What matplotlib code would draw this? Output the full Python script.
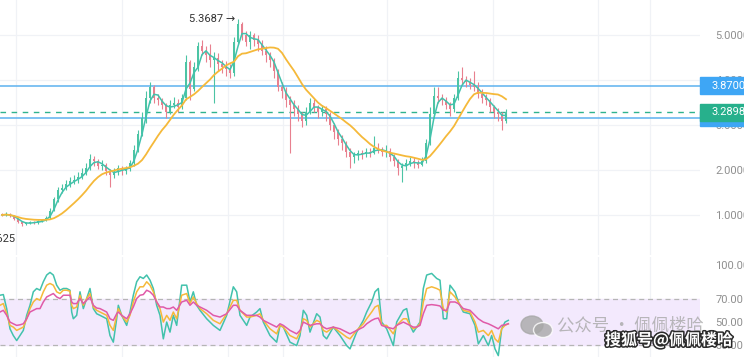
import matplotlib
matplotlib.use("Agg")
import matplotlib.pyplot as plt
import matplotlib.patheffects as pe
from matplotlib.patches import Rectangle, Ellipse
import numpy as np
import pandas as pd

plt.rcParams['font.family'] = ['Roboto', 'Noto Sans CJK SC', 'DejaVu Sans']

# ---------------- data ----------------
first_open = 1.02
closes = [1.00, 1.02, 0.98, 0.92, 0.85, 0.80, 0.82, 0.84, 0.83, 0.86,
          0.88, 0.93, 1.10, 1.35, 1.55, 1.60, 1.70, 1.75, 1.78, 1.85,
          1.93, 2.05, 2.25, 2.20, 2.10, 2.12, 1.98, 1.90, 1.95, 2.05,
          1.98, 2.02, 2.15, 2.45, 2.80, 3.15, 3.60, 3.85, 3.60, 3.55,
          3.45, 3.30, 3.45, 3.50, 3.40, 3.60, 4.40, 3.80, 4.30, 4.75,
          4.65, 4.55, 4.45, 4.50, 4.35, 4.30, 4.25, 4.15, 4.85, 5.25,
          5.00, 4.85, 5.00, 4.90, 4.80, 4.65, 4.55, 4.45, 4.20, 3.85,
          3.75, 3.55, 3.45, 3.35, 3.25, 3.10, 3.30, 3.50, 3.40, 3.30,
          3.35, 3.25, 3.00, 2.85, 2.70, 2.60, 2.40, 2.30, 2.33, 2.38,
          2.35, 2.40, 2.38, 2.50, 2.45, 2.40, 2.42, 2.30, 2.20, 2.05,
          2.08, 2.15, 2.20, 2.15, 2.12, 2.20, 2.60, 3.25, 3.65, 3.60,
          3.55, 3.45, 3.35, 3.60, 4.05, 4.00, 3.95, 3.90, 3.85, 3.70,
          3.60, 3.55, 3.40, 3.30, 3.25, 3.10, 3.2898]
highs = [1.05, 1.06, 1.04, 0.99, 0.94, 0.87, 0.85, 0.87, 0.87, 0.89,
         0.92, 0.98, 1.15, 1.40, 1.62, 1.70, 1.78, 1.85, 1.90, 1.95,
         2.05, 2.15, 2.35, 2.32, 2.25, 2.22, 2.15, 2.02, 2.05, 2.12,
         2.10, 2.10, 2.22, 2.55, 2.90, 3.30, 3.75, 3.95, 3.90, 3.70,
         3.60, 3.50, 3.55, 3.62, 3.58, 3.70, 4.55, 4.45, 4.40, 4.85,
         4.90, 4.75, 4.80, 4.62, 4.60, 4.45, 4.42, 4.35, 4.95, 5.3687,
         5.30, 5.10, 5.10, 5.05, 5.00, 4.90, 4.75, 4.62, 4.50, 4.25,
         3.95, 3.85, 3.65, 3.55, 3.45, 3.30, 3.40, 3.60, 3.58, 3.45,
         3.45, 3.42, 3.30, 3.05, 2.92, 2.78, 2.65, 2.50, 2.40, 2.45,
         2.45, 2.48, 2.50, 2.75, 2.60, 2.52, 2.55, 2.48, 2.35, 2.25,
         2.15, 2.25, 2.30, 2.28, 2.22, 2.30, 2.70, 3.40, 3.85, 3.85,
         3.70, 3.62, 3.52, 3.70, 4.20, 4.30, 4.10, 4.05, 4.20, 3.95,
         3.80, 3.68, 3.60, 3.45, 3.38, 3.30, 3.35]
lows = [0.97, 0.98, 0.95, 0.90, 0.83, 0.7625, 0.78, 0.80, 0.80, 0.81,
        0.84, 0.86, 0.91, 1.08, 1.30, 1.48, 1.55, 1.62, 1.68, 1.72,
        1.80, 1.88, 2.00, 2.10, 2.02, 2.00, 1.88, 1.62, 1.82, 1.90,
        1.90, 1.92, 1.98, 2.10, 2.40, 2.75, 3.05, 3.50, 3.50, 3.45,
        3.35, 3.15, 3.25, 3.38, 3.30, 3.35, 3.55, 3.55, 3.75, 4.20,
        4.55, 4.40, 4.30, 3.50, 4.20, 4.15, 4.10, 4.05, 4.10, 4.80,
        4.90, 4.75, 4.70, 4.75, 4.65, 4.55, 4.40, 4.30, 4.05, 3.75,
        3.60, 3.40, 2.38, 3.20, 3.10, 2.95, 3.00, 3.25, 3.30, 3.15,
        3.20, 3.10, 2.90, 2.70, 2.55, 2.45, 2.30, 2.05, 2.15, 2.22,
        2.25, 2.28, 2.30, 2.35, 2.38, 2.32, 2.30, 2.20, 2.10, 1.90,
        1.73, 2.00, 2.08, 2.05, 2.05, 2.08, 2.15, 2.55, 3.15, 3.50,
        3.45, 3.35, 3.20, 3.30, 3.55, 3.90, 3.85, 3.80, 3.75, 3.60,
        3.50, 3.45, 3.30, 3.15, 3.10, 2.90, 3.05]

# oscillator readings (time in bar units)
rsi_t = [-0.5, 0.33, 1.17, 2, 2.83, 3.67, 4.5, 5.33, 6.17, 7,
         7.83, 8.67, 9.5, 10.33, 11.17, 12, 12.83, 13.67, 14.5, 15.33,
         16.17, 17, 17.42, 17.83, 18.67, 19.5, 20.33, 21.17, 22, 22.83,
         23.67, 24.5, 26.17, 27, 27.83, 28.67, 29.08, 29.92, 31.17, 32,
         32.83, 33.67, 34.5, 35.33, 36.17, 37, 37.83, 38.67, 39.5, 40.33,
         41.17, 42, 42.83, 43.67, 44.92, 46.17, 47, 47.83, 48.67, 49.5,
         51.17, 52.83, 54.5, 56.17, 57.83, 58.67, 59.5, 61.17, 62, 63.67,
         64.5, 65.33, 67, 68.67, 69.5, 70.33, 72, 73.67, 74.5, 75.33,
         76.17, 77, 78.67, 79.5, 80.33, 81.17, 82.83, 84.5, 86.17, 87,
         88.67, 90.33, 91.17, 92.42, 93.25, 94.08, 94.92, 96.17, 97.83, 98.67,
         100.33, 101.17, 102, 102.83, 103.67, 104.5, 105.33, 106.17, 107.42, 108.67,
         109.5, 110.33, 111.17, 112, 113.25, 114.08, 115.33, 117, 118.25, 119.08,
         120.33, 121.58, 122.42, 123.25, 124.08, 124.92, 125.75, 126.58]
rsi_fast = [73.5, 74.1, 61.8, 44.1, 38.2, 33.8, 38.2, 42.7, 55.9, 64.7,
            76.5, 79.4, 77.9, 85.3, 91.2, 93.5, 91.2, 82.3, 77.9, 79.4,
            79.4, 77.9, 58.8, 52.9, 55.9, 76.5, 61.8, 70.6, 79.4, 61.8,
            57.3, 55.9, 52.9, 38.2, 32.4, 52.9, 64.7, 55.9, 47.1, 58.8,
            73.5, 85.3, 89.7, 88.2, 91.2, 86.7, 79.4, 64.7, 55.9, 35.3,
            50.0, 41.2, 55.9, 47.1, 82.3, 82.3, 67.6, 76.5, 64.7, 60.3,
            52.9, 47.1, 42.7, 55.9, 80.9, 76.5, 55.9, 47.1, 54.4, 58.8,
            61.8, 50.0, 38.2, 32.4, 47.1, 45.6, 32.4, 29.4, 38.2, 60.3,
            55.9, 41.2, 57.3, 54.4, 38.2, 35.3, 45.6, 38.2, 29.4, 26.5,
            41.2, 51.5, 58.8, 67.6, 76.5, 79.4, 50.0, 44.1, 29.4, 50.0,
            60.3, 61.8, 47.1, 41.2, 45.6, 50.0, 79.4, 91.2, 92.6, 88.2,
            86.7, 52.9, 52.9, 82.3, 76.5, 67.6, 58.8, 57.3, 47.1, 30.9,
            38.2, 29.4, 38.2, 26.5, 20.6, 44.1, 50.0, 51.5]
rsi_mid = [64.7, 66.2, 57.3, 47.1, 45.6, 42.7, 44.1, 45.6, 52.9, 61.8,
           67.6, 70.6, 69.1, 76.5, 82.3, 83.8, 82.3, 76.5, 75.0, 77.9,
           77.9, 77.0, 64.7, 61.8, 63.2, 73.5, 64.7, 70.6, 75.0, 63.2,
           60.3, 58.8, 55.9, 47.1, 42.7, 55.9, 61.8, 55.9, 50.0, 55.9,
           67.6, 76.5, 80.9, 80.9, 85.3, 82.3, 76.5, 67.6, 61.8, 50.0,
           55.9, 51.5, 58.8, 52.9, 73.5, 75.0, 66.2, 72.0, 66.2, 61.8,
           57.3, 51.5, 48.5, 57.3, 69.1, 69.1, 60.3, 54.4, 54.4, 55.9,
           57.3, 51.5, 44.1, 39.7, 47.1, 45.6, 38.2, 35.3, 41.2, 52.9,
           51.5, 45.6, 51.5, 50.0, 42.7, 41.2, 45.6, 41.2, 36.8, 35.3,
           42.7, 48.5, 52.9, 58.8, 63.2, 64.7, 47.1, 47.1, 39.7, 47.1,
           52.9, 52.9, 47.1, 44.1, 45.6, 48.5, 67.6, 79.4, 80.9, 79.4,
           77.9, 61.8, 58.8, 76.5, 72.0, 67.6, 60.3, 58.8, 50.0, 41.2,
           42.7, 38.2, 42.7, 35.3, 32.4, 44.1, 47.1, 48.5]
rsi_slow = [58.8, 60.3, 55.9, 50.0, 48.5, 47.1, 47.6, 48.5, 52.9, 58.8,
            60.3, 61.8, 61.8, 67.6, 72.0, 73.5, 75.0, 72.0, 70.6, 73.5,
            73.5, 73.5, 67.6, 66.2, 66.2, 70.6, 66.2, 69.1, 72.0, 64.7,
            62.3, 61.8, 58.8, 52.9, 51.5, 57.3, 58.8, 55.9, 52.9, 57.3,
            63.2, 70.6, 73.5, 74.1, 77.9, 76.5, 73.5, 67.6, 63.2, 63.2,
            61.8, 61.8, 63.2, 60.3, 67.6, 69.1, 64.7, 67.6, 64.7, 63.2,
            60.3, 55.9, 54.4, 57.3, 64.7, 64.7, 60.3, 55.9, 55.9, 55.9,
            54.4, 51.5, 48.5, 45.6, 48.5, 47.1, 42.7, 39.7, 42.7, 50.0,
            48.5, 47.1, 48.5, 48.5, 45.6, 44.1, 45.6, 44.1, 41.2, 39.7,
            42.7, 45.6, 48.5, 51.5, 52.9, 53.5, 47.1, 45.6, 44.1, 47.1,
            50.0, 48.5, 47.1, 45.6, 45.6, 47.1, 57.3, 64.7, 65.3, 64.7,
            64.1, 60.3, 60.3, 67.6, 67.6, 66.2, 61.8, 60.3, 55.9, 52.9,
            50.0, 48.5, 47.1, 45.6, 44.1, 47.1, 47.6, 48.5]

level_high = 3.87
level_last = 3.2898
level_low = 3.15
price_ticks = [1.0, 2.0, 3.0, 4.0, 5.0]
rsi_ticks = [30, 50, 70, 100]
max_label = "5.3687 \u2192"
min_label = "0.7625"
fast_win, slow_win = 3, 12

# ---------------- derived ----------------
c = pd.Series(closes)
o = pd.Series([first_open] + closes[:-1])
h = pd.Series(highs)
l = pd.Series(lows)
n = len(c)
idx = np.arange(n)
ma_fast = c.rolling(fast_win, min_periods=1).mean()
ma_slow = c.rolling(slow_win, min_periods=1).mean()

UP, DOWN = '#4cc4a4', '#e8808f'
TEAL, YEL, PINK = '#42c2ac', '#f5b93a', '#e05aa8'
GRID = '#f0f2f6'
TICKC = '#8f8f8f'

W, H = 744, 357
fig = plt.figure(figsize=(W / 100, H / 100), dpi=100)
fig.patch.set_facecolor('white')
axp = fig.add_axes([0, 1 - 255 / H, 700 / W, 255 / H])
axr = fig.add_axes([0, 0, 700 / W, 100 / H], sharex=axp)

xmin, xmax = -0.5, 174.5
for ax in (axp, axr):
    ax.set_xlim(xmin, xmax)
    for s in ax.spines.values():
        s.set_visible(False)
    ax.tick_params(axis='x', length=0, labelbottom=False)
    ax.yaxis.tick_right()
    ax.tick_params(axis='y', length=0, pad=11, labelsize=8, colors=TICKC)
    for gx in [16, 122, 228, 283, 387, 493, 598, 650]:
        ax.axvline((gx - 2) / 4, color=GRID, lw=0.9, zorder=0)

# price panel
axp.set_ylim(0.111, 5.78)
axp.set_yticks(price_ticks)
axp.set_yticklabels([f"{t:.4f}" for t in price_ticks])
for t in price_ticks:
    axp.axhline(t, color=GRID, lw=0.9, zorder=0)

cols = [UP if cc >= oo else DOWN for cc, oo in zip(c, o)]
axp.vlines(idx, l, h, colors=cols, lw=0.8, zorder=2)
bottoms = np.minimum(o, c)
heights = np.maximum(np.abs(c - o), 0.015)
axp.bar(idx, heights, bottom=bottoms, width=0.6, color=cols, zorder=3, linewidth=0)
axp.plot(idx, ma_fast, color=TEAL, lw=1.1, zorder=4)
axp.plot(idx, ma_slow, color=YEL, lw=1.3, zorder=4)

axp.axhline(level_high, color='#5db2ef', lw=1.1, zorder=1)
axp.axhline(level_low, color='#5db2ef', lw=1.1, zorder=1)
axp.axhline(level_last, color='#2fb38e', lw=1.0, ls=(0, (4, 4)), zorder=1)

imax = int(np.argmax(h))
axp.annotate(max_label, xy=(imax, h[imax]), xytext=(-2, 0), textcoords='offset points',
             ha='right', va='center', fontsize=8, color='#333333',
             family=['Roboto', 'DejaVu Sans'])
imin = int(np.argmin(l))
axp.annotate(min_label, xy=(imin, l[imin]), xytext=(-5, -6), textcoords='offset points',
             ha='right', va='top', fontsize=8, color='#333333', annotation_clip=False)

# oscillator panel
axr.set_ylim(19.4, 107)
axr.set_yticks(rsi_ticks)
axr.set_yticklabels([f"{t:.2f}" for t in rsi_ticks])
axr.axhspan(30, 70, color='#f3e9fd', zorder=0)
axr.axhline(70, color='#b5b5b5', lw=0.9, ls=(0, (4, 3)), zorder=1)
axr.axhline(30, color='#b5b5b5', lw=0.9, ls=(0, (4, 3)), zorder=1)
axr.plot(rsi_t, rsi_fast, color=TEAL, lw=1.1, zorder=3)
axr.plot(rsi_t, rsi_mid, color=YEL, lw=1.1, zorder=3)
axr.plot(rsi_t, rsi_slow, color=PINK, lw=1.1, zorder=3)

# price labels on the right axis area
def ypix(ax, v):
    return ax.transData.transform((0, v))[1]

fig.canvas.draw()
yp = ypix(axp, level_low)
fig.add_artist(Rectangle((700 / W, (yp - 7.5) / H), 44 / W, 15 / H,
                         transform=fig.transFigure, color='#3ea6f5', zorder=5))
for v, colr in [(level_high, '#3ea6f5'), (level_last, '#27b08c')]:
    yp = ypix(axp, v)
    fig.add_artist(Rectangle((700 / W, (yp - 8.5) / H), 44 / W, 17 / H,
                             transform=fig.transFigure, color=colr, zorder=5))
    fig.text(711 / W, yp / H, f"{v:.4f}", color='white', fontsize=8, va='center',
             ha='left', zorder=6)

# watermarks
wm = '#a8a8a8'
fig.add_artist(Ellipse((532 / W, (H - 325) / H), 22 / W, 18 / H, transform=fig.transFigure,
                       color=wm, alpha=0.8, zorder=7))
fig.add_artist(Ellipse((543 / W, (H - 330) / H), 19 / W, 15 / H, transform=fig.transFigure,
                       color=wm, alpha=0.8, zorder=7, ec='white', lw=1))
fig.text(557 / W, (H - 325) / H, "公众号 · 佩佩楼哈", fontsize=12.5, color=wm, alpha=0.8,
         va='center', ha='left', zorder=7, family=['Noto Sans CJK SC', 'DejaVu Sans'])
fig.text(605 / W, (H - 340) / H, "搜狐号@佩佩楼哈", fontsize=11.5, color='white',
         fontweight='bold', va='center', ha='left', zorder=8,
         family=['Noto Sans CJK SC', 'DejaVu Sans'],
         path_effects=[pe.withStroke(linewidth=2.2, foreground='#2a2a2a')])

fig.savefig('out.png', dpi=100)
